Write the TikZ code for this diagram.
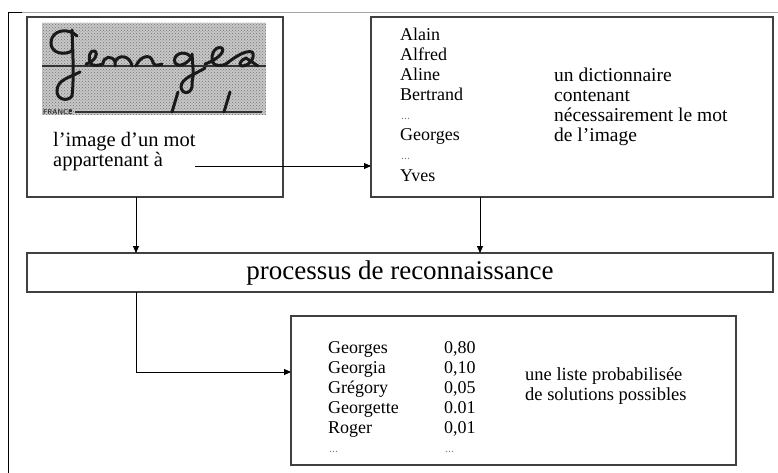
\documentclass[tikz,border=0pt]{standalone}
\usepackage{fontspec}
\setmainfont{Liberation Serif}
\usetikzlibrary{arrows.meta,patterns}
\begin{document}
\begin{tikzpicture}[x=1pt,y=-1pt,
  box/.style={draw=black!75,line width=1.1pt,inner sep=0pt,outer sep=0pt},
  arr/.style={draw=black,line width=0.9pt,-{Triangle[length=7pt,width=6pt]}},
  lbl/.style={anchor=base west,inner sep=0pt,font=\fontsize{18}{20}\selectfont},
  desc/.style={anchor=base west,inner sep=0pt,font=\fontsize{18.5}{20}\selectfont},
  dots/.style={anchor=base west,inner sep=0pt,text=black!50,font=\fontsize{12}{12}\selectfont},
  hw/.style={draw=black!90,line width=3pt,line cap=round,line join=round}]
\useasboundingbox (0,0) rectangle (778,473);
\fill[white] (0,0) rectangle (778,473);

% page frame
\draw[black!35,line width=1pt] (22,12.5) -- (778,12.5);
\draw[black,line width=1pt] (22,12.5) -- (8,12.5) -- (8,473);

% boxes
\node[box,minimum width=256pt,minimum height=180pt] (img) at (155,107) {};
\node[box,minimum width=402pt,minimum height=180pt] (dict) at (572,107) {};
\node[box,minimum width=746pt,minimum height=39pt] (proc) at (400,272.5) {};
\node[box,minimum width=445pt,minimum height=149pt] (res) at (513.5,390.5) {};

% scanned handwritten word
\begin{scope}
  \fill[black!22] (42,23) rectangle (266,115);
  \fill[pattern=crosshatch dots,pattern color=black!55] (42,23) rectangle (266,115);
  \draw[black!80,line width=2.4pt] (42,66) -- (266,66);
  \draw[black!80,line width=2.2pt] (75,112) -- (262,112);
  \draw[black!80,line width=1.8pt] (69,111) -- (72,111);
  \node[anchor=base west,inner sep=0pt,text=black!80,font=\sffamily\bfseries\fontsize{7}{7}\selectfont] (fr) at (43,114.5) {FRANCE};
  \draw[hw] (172,112) -- (178,92);
  \draw[hw] (224,112) -- (230,92);
  % G
  \draw[hw] (77,36) .. controls (68,27) and (52,30) .. (51,42) .. controls (50,54) and (66,56) .. (73,50);
  \draw[hw] (72,30) .. controls (73,55) and (74,80) .. (72,96);
  \draw[hw] (72,96) .. controls (68,102) and (56,100) .. (57,90) .. controls (58,80) and (68,78) .. (80,72);
  % e
  \draw[hw] (86,64) .. controls (94,62) and (99,54) .. (95,51) .. controls (90,49) and (87,58) .. (91,64) .. controls (94,66) and (98,66) .. (102,64);
  % o
  \draw[hw] (103,64) .. controls (103,56) and (113,55) .. (115,62) -- (115,66);
  \draw[hw] (115,62) .. controls (118,54) and (130,55) .. (132,66);
  % r
  \draw[hw] (136,66) .. controls (140,56) and (150,54) .. (152,60) .. controls (154,66) and (156,66) .. (162,64);
  % g
  \draw[hw] (190,56) .. controls (184,50) and (172,54) .. (175,63) .. controls (178,68) and (188,64) .. (192,56);
  \draw[hw] (192,54) .. controls (193,68) and (194,76) .. (192,82);
  \draw[hw] (192,82) .. controls (194,94) and (182,96) .. (181,87) .. controls (181,78) and (196,74) .. (205,68);
  % e
  \draw[hw] (205,64) .. controls (215,61) and (226,52) .. (222,48) .. controls (214,45) and (209,58) .. (214,64) .. controls (217,66) and (222,66) .. (226,64);
  % s
  \draw[hw] (226,64) .. controls (236,56) and (246,50) .. (252,52) .. controls (256,56) and (250,66) .. (242,66) .. controls (238,66) and (240,60) .. (246,58) -- (258,66);
\end{scope}

% texts of the first box
\node[anchor=base west,inner sep=0pt,font=\fontsize{20.5}{21}\selectfont] (t1) at (53,147) {l’image d’un mot};
\node[anchor=base west,inner sep=0pt,font=\fontsize{20.5}{21}\selectfont] (t2) at (53,167) {appartenant à};
\coordinate (t2end) at (195,166);

% dictionary
\node[lbl] (d1) at (400,41) {Alain};
\node[lbl] (d2) at (400,61) {Alfred};
\node[lbl] (d3) at (400,81) {Aline};
\node[lbl] (d4) at (400,101) {Bertrand};
\node[dots] (d5) at (401,120) {...};
\node[lbl] (d6) at (400,141) {Georges};
\node[dots] (d7) at (401,160) {...};
\node[lbl] (d8) at (400,181) {Yves};
\node[desc,font=\fontsize{19.5}{20}\selectfont] (e1) at (554,82) {un dictionnaire};
\node[desc,font=\fontsize{19.5}{20}\selectfont] (e2) at (554,102) {contenant};
\node[desc,font=\fontsize{19.5}{20}\selectfont] (e3) at (554,122) {nécessairement le mot};
\node[desc,font=\fontsize{19.5}{20}\selectfont] (e4) at (554,142) {de l’image};

% recognition
\node[font=\fontsize{27}{30}\selectfont,inner sep=0pt] (ptxt) at (400,273) {processus de reconnaissance};

% result list
\node[lbl] (r1) at (328,353) {Georges};
\node[lbl] (r2) at (328,373) {Georgia};
\node[lbl] (r3) at (328,393) {Grégory};
\node[lbl] (r4) at (328,413) {Georgette};
\node[lbl] (r5) at (328,433) {Roger};
\node[dots] (r6) at (329,452) {...};
\node[lbl] (p1) at (444,353) {0,80};
\node[lbl] (p2) at (444,373) {0,10};
\node[lbl] (p3) at (444,393) {0,05};
\node[lbl] (p4) at (444,413) {0.01};
\node[lbl] (p5) at (444,433) {0,01};
\node[dots] (p6) at (445,452) {...};
\node[desc] (s1) at (525,380) {une liste probabilisée};
\node[desc] (s2) at (525,400) {de solutions possibles};

% connectors
\draw[arr] (t2end) -- (t2end -| dict.west);
\draw[arr] ([xshift=109pt]img.south west) -- ([xshift=109pt]proc.north west);
\draw[arr] ([xshift=109pt]dict.south west) -- ([xshift=453pt]proc.north west);
\draw[arr] ([xshift=109pt]proc.south west) |- ([yshift=18.5pt]res.west);
\end{tikzpicture}
\end{document}
